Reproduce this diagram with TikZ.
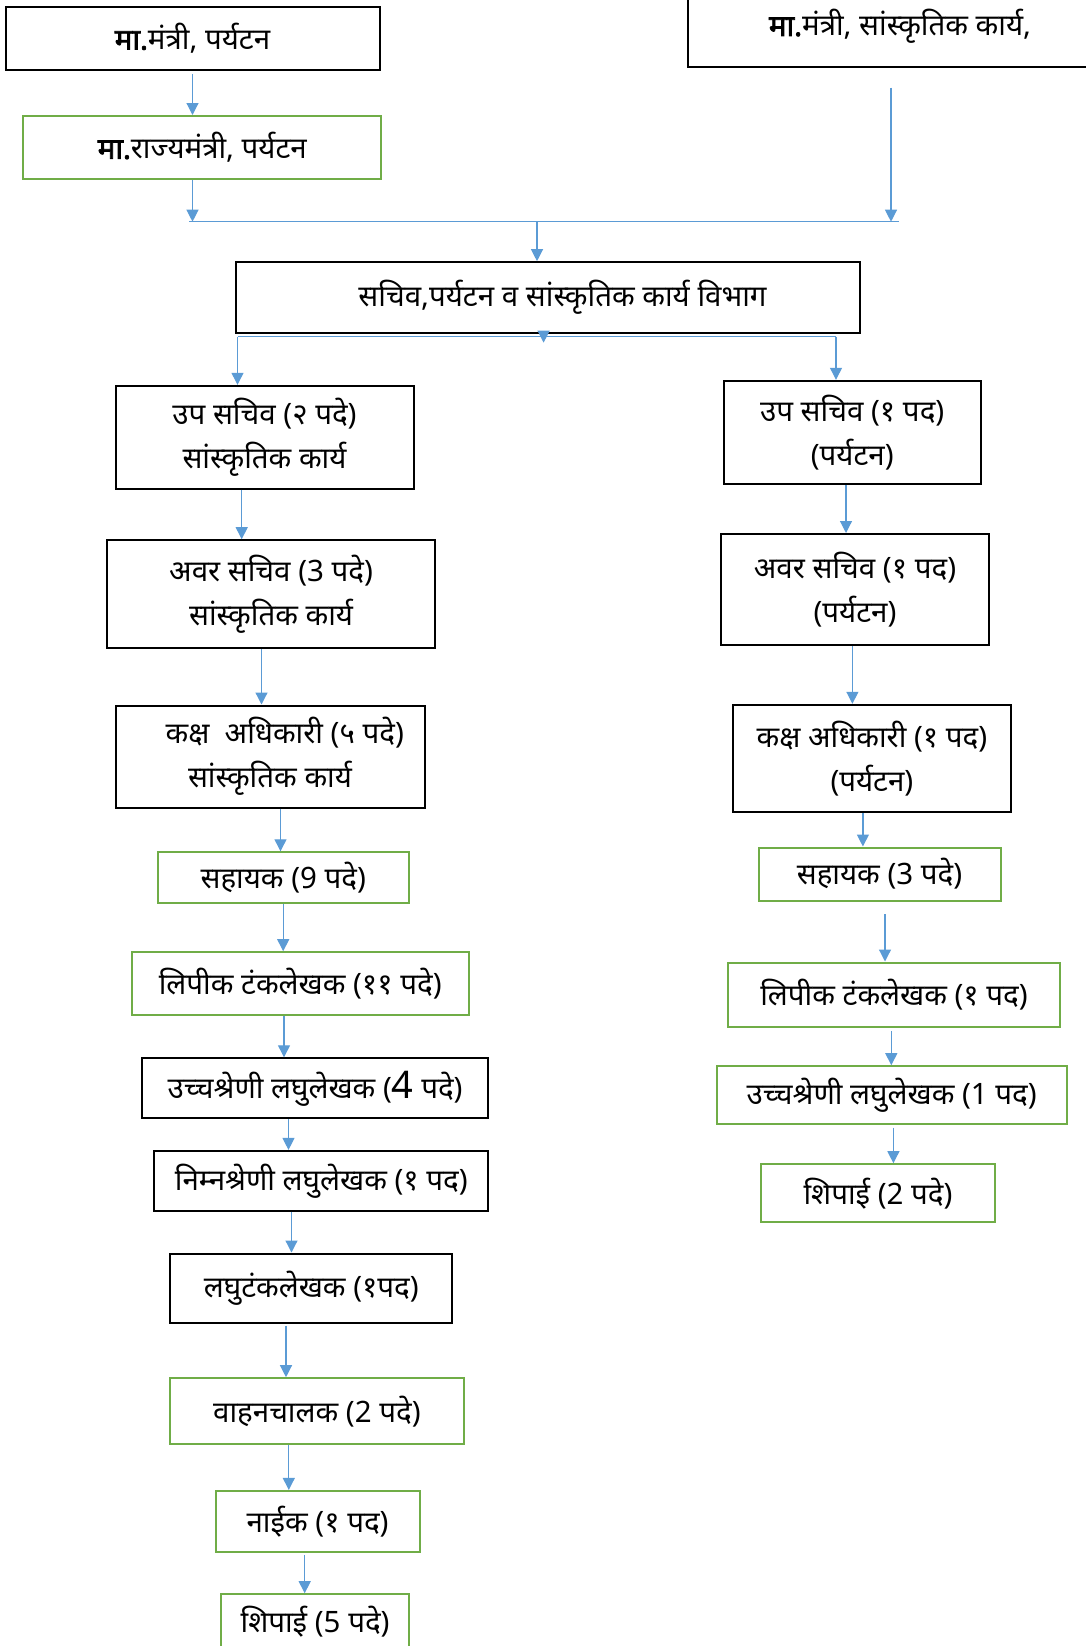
\documentclass[tikz,border=0pt]{standalone}
\usepackage{fontspec}
\newfontfamily\devfont[Script=Devanagari]{Noto Sans}
\newfontfamily\devbold[Script=Devanagari,FakeBold=2.5]{Noto Sans}
\usetikzlibrary{arrows.meta,positioning}
\definecolor{linkblue}{RGB}{91,155,213}
\definecolor{staffgreen}{RGB}{112,173,71}
\tikzset{every picture/.style={
  >={Triangle[length=12pt,width=12pt]}   % Office style arrow heads.
  }
}

\begin{document}
\begin{tikzpicture}[x=1pt,y=-1pt,
    post/.style={line width=2pt,inner sep=0pt,align=center,
      font=\devfont\fontsize{29.5}{44}\selectfont},
    boss/.style={post,draw=black},
    staff/.style={post,draw=staffgreen},
    link/.style={->,draw=linkblue,line width=1.2pt}]

  \useasboundingbox (0,0) rectangle (1086,1646);

  % Ministers and the department.
  \node[boss,minimum width=374pt,minimum height=63pt] (minT) at (192.5,38.3)
    {{\devbold मा.}मंत्री, पर्यटन};
  \node[staff,minimum width=358pt,minimum height=63pt] (rajya) at (202.3,147.5)
    {{\devbold मा.}राज्यमंत्री, पर्यटन};
  \node[boss,minimum width=425pt,minimum height=80pt] (minS) at (900,26.7)
    {{\devbold मा.}मंत्री, सांस्कृतिक कार्य,};
  \node[boss,minimum width=624pt,minimum height=71pt] (sec) at (547.5,297.7)
    {\hspace{30pt}सचिव,पर्यटन व सांस्कृतिक कार्य विभाग};

  % Left branch: cultural affairs.
  \node[boss,minimum width=298pt,minimum height=103pt] (upsS) at (264.5,437.3)
    {उप सचिव (२ पदे)\\ सांस्कृतिक कार्य};
  \node[boss,minimum width=328pt,minimum height=108pt] (avarS) at (271.1,594.2)
    {अवर सचिव (3 पदे)\\ सांस्कृतिक कार्य};
  \node[boss,minimum width=309pt,minimum height=102pt] (kakshS) at (270,756.5)
    {\hspace{1em}कक्ष\ \ अधिकारी (५ पदे)\\ सांस्कृतिक कार्य};
  \node[staff,minimum width=251pt,minimum height=51pt] (sahS) at (283.3,877.8)
    {सहायक (9 पदे)};
  \node[staff,minimum width=337pt,minimum height=63pt] (lipS) at (300.2,983.7)
    {लिपीक टंकलेखक (११ पदे)};
  \node[boss,minimum width=346pt,minimum height=60pt] (uchS) at (315.1,1088.3)
    {उच्चश्रेणी लघुलेखक ({\fontsize{38}{38}\selectfont 4} पदे)};
  \node[boss,minimum width=334pt,minimum height=60pt] (nimS) at (321.3,1180.9)
    {निम्नश्रेणी लघुलेखक (१ पद)};
  \node[boss,minimum width=282pt,minimum height=69pt] (laghuS) at (311.3,1288)
    {लघुटंकलेखक (१पद)};
  \node[staff,minimum width=294pt,minimum height=66pt] (vahanS) at (316.9,1411.2)
    {वाहनचालक (2 पदे)};
  \node[staff,minimum width=204pt,minimum height=61pt] (naikS) at (317.6,1521.4)
    {नाईक (१ पद)};
  \node[staff,minimum width=188pt,minimum height=55pt] (shipS) at (315.1,1621.7)
    {शिपाई (5 पदे)};

  % Right branch: tourism.
  \node[boss,minimum width=257pt,minimum height=103pt] (upsP) at (852.2,432.3)
    {उप सचिव (१ पद)\\ (पर्यटन)};
  \node[boss,minimum width=268pt,minimum height=111pt] (avarP) at (855,589.5)
    {अवर सचिव (१ पद)\\ (पर्यटन)};
  \node[boss,minimum width=278pt,minimum height=107pt] (kakshP) at (871.9,758.3)
    {कक्ष अधिकारी (१ पद)\\ (पर्यटन)};
  \node[staff,minimum width=242pt,minimum height=53pt] (sahP) at (879.5,874)
    {सहायक (3 पदे)};
  \node[staff,minimum width=332pt,minimum height=64pt] (lipP) at (894,994.5)
    {लिपीक टंकलेखक (१ पद)};
  \node[staff,minimum width=350pt,minimum height=58pt] (uchP) at (891.7,1095.2)
    {उच्चश्रेणी लघुलेखक (1 पद)};
  \node[staff,minimum width=234pt,minimum height=58pt] (shipP) at (878,1193.2)
    {शिपाई (2 पदे)};

  % Bus lines above and below the department.
  \coordinate (busL) at (189,221.7);
  \coordinate (busR) at (899,221.7);
  \coordinate (busM) at (537,221.7);
  \coordinate (splitL) at (237.5,336.7);
  \coordinate (splitR) at (836,336.7);
  \coordinate (splitM) at (543.6,336.7);

  \draw[link,shorten <=3pt] (minT.south) -- (minT.south |- rajya.north);
  \draw[link] (rajya.south -| minT.south) -- (busL -| minT.south);
  \draw[link,shorten <=20pt] (minS.south -| 891,0) -- (busL -| 891,0);
  \draw[linkblue,line width=1.2pt] (busL) -- (busR);
  \draw[link] (busM) -- (sec.north -| busM);

  \draw[link] (sec.south -| splitM) -- ([yshift=-6pt]splitM);
  \draw[linkblue,line width=1.2pt] (splitL) -- (splitR);
  \draw[link] (splitL) -- (upsS.north -| splitL);
  \draw[link] (splitR) -- (upsP.north -| splitR);

  % Links down each branch.
  \foreach \a/\b/\x/\g in {upsS/avarS/241.7/0, avarS/kakshS/261.5/0,
      kakshS/sahS/280.5/0, sahS/lipS/283.2/0, lipS/uchS/284/0,
      uchS/nimS/288.5/0, nimS/laghuS/291.5/0, laghuS/vahanS/286/2,
      vahanS/naikS/288.8/0, naikS/shipS/304.7/2,
      upsP/avarP/846/0, avarP/kakshP/852.4/0, kakshP/sahP/862.9/0,
      sahP/lipP/885/12.6, lipP/uchP/891.3/3.3, uchP/shipP/893.4/2.4}
    \draw[link,shorten <=\g pt] (\a.south -| \x,0) -- (\b.north -| \x,0);
\end{tikzpicture}
\end{document}
